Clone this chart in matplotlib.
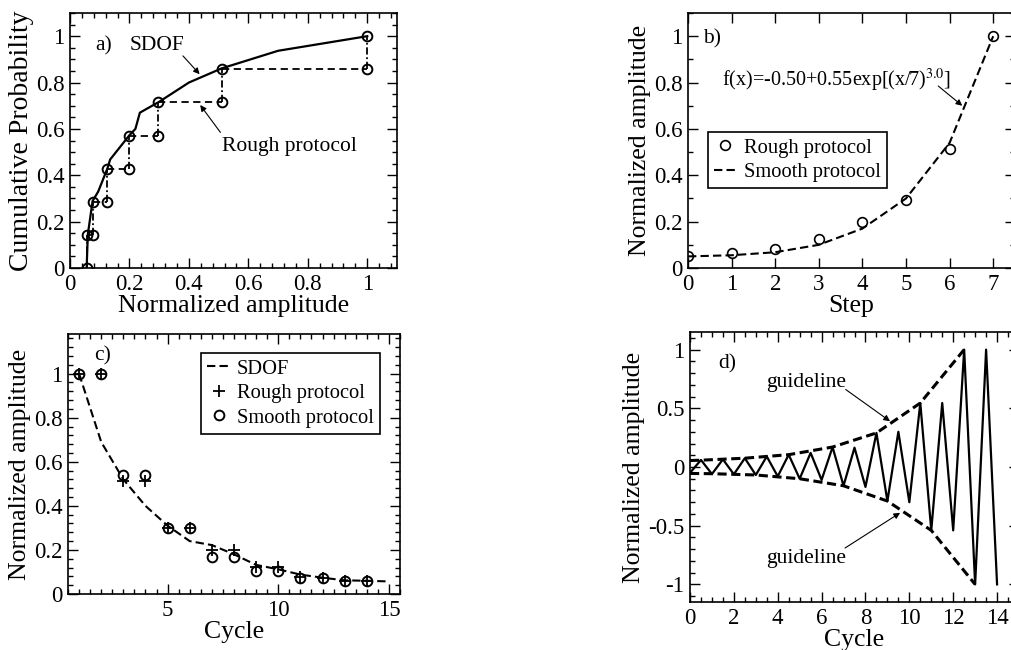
import numpy as np
import matplotlib.pyplot as plt
from matplotlib.ticker import MultipleLocator, FuncFormatter

plt.rcParams['font.family'] = ['Liberation Serif', 'DejaVu Serif']
plt.rcParams['mathtext.fontset'] = 'stix'

# a) cumulative probability
sdof_amp = [0.056, 0.06, 0.076, 0.095, 0.126, 0.135, 0.2, 0.22, 0.235, 0.3, 0.4, 0.51, 0.7, 1.0]
sdof_cdf = [0.0, 0.145, 0.289, 0.33, 0.43, 0.468, 0.573, 0.6, 0.67, 0.717, 0.8, 0.861, 0.937, 1.0]
rough_amp = [0.057, 0.077, 0.125, 0.2, 0.297, 0.51, 1.0]
rough_cdf = [0.0, 1/7, 2/7, 3/7, 4/7, 5/7, 6/7, 1.0]

# b) protocol steps
steps = [0, 1, 2, 3, 4, 5, 6, 7]
rough_step_amp = [0.051, 0.063, 0.08, 0.127, 0.2, 0.294, 0.512, 1.0]
smooth_step_amp = [0.05, 0.055, 0.068, 0.1, 0.17, 0.3, 0.54, 1.0]

# c) amplitude per cycle
cycles = [1, 2, 3, 4, 5, 6, 7, 8, 9, 10, 11, 12, 13, 14]
sdof_cycles = [1, 2, 3, 4, 5, 6, 7, 8, 9, 10, 11, 12, 13, 14, 15]
sdof_cycle_amp = [1.0, 0.69, 0.52, 0.40, 0.31, 0.24, 0.222, 0.18, 0.132, 0.112, 0.088, 0.074, 0.062, 0.06, 0.057]
rough_cycle_amp = [1.0, 1.0, 0.515, 0.515, 0.3, 0.3, 0.2, 0.2, 0.124, 0.122, 0.079, 0.074, 0.06, 0.06]
smooth_cycle_amp = [1.0, 1.0, 0.541, 0.541, 0.298, 0.298, 0.17, 0.17, 0.105, 0.105, 0.071, 0.072, 0.059, 0.06]

# d) loading history
hist_t = [0, 0.5, 1, 1.5, 2, 2.5, 3, 3.5, 4, 4.5, 5, 5.5, 6, 6.5, 7,
          7.5, 8, 8.5, 9, 9.5, 10, 10.5, 11, 11.5, 12, 12.5, 13, 13.5, 14]
hist_amp = [-0.05, 0.06, -0.06, 0.065, -0.062, 0.075, -0.068, 0.09, -0.08, 0.105, -0.1, 0.12, -0.11,
            0.17, -0.16, 0.165, -0.17, 0.29, -0.29, 0.3, -0.3, 0.545, -0.54, 0.545, -0.54, 1.0, -1.0, 1.0, -1.0]
guide_up_t = [0, 0.5, 2.5, 4.5, 6.5, 8.5, 10.5, 12.5]
guide_up = [0.055, 0.058, 0.075, 0.105, 0.17, 0.29, 0.545, 1.0]
guide_lo_t = [0, 1, 3, 5, 7, 9, 11, 13]
guide_lo = [-0.055, -0.057, -0.068, -0.1, -0.16, -0.29, -0.54, -1.0]

LBL = 18.5
TCK = 16.5
TXT = 15.5
arrow = dict(arrowstyle='-|>', lw=0.8, color='k', mutation_scale=9, shrinkA=0, shrinkB=0)
fmt_g = FuncFormatter(lambda v, p: '%g' % round(v, 6))


def style(ax):
    ax.tick_params(which='both', direction='in', top=True, right=True, labelsize=TCK, pad=4)
    ax.tick_params(which='major', length=7, width=1)
    ax.tick_params(which='minor', length=3.5, width=1)
    for s in ax.spines.values():
        s.set_linewidth(1.2)
    ax.xaxis.set_major_formatter(fmt_g)
    ax.yaxis.set_major_formatter(fmt_g)


def legend(ax, **kw):
    leg = ax.legend(borderaxespad=0, fontsize=14.8, frameon=True, fancybox=False, edgecolor='k',
                    handlelength=1.1, handletextpad=0.35, borderpad=0.3, labelspacing=0.25,
                    framealpha=1, **kw)
    leg.get_frame().set_linewidth(1.2)


fig = plt.figure(figsize=(10.11, 6.5), dpi=100)
W, H = 1011, 650
ax_a = fig.add_axes([70/W, 1-268/H, 327/W, 255/H])
ax_b = fig.add_axes([688/W, 1-268/H, 327/W, 255/H])
ax_c = fig.add_axes([68/W, 1-594/H, 332/W, 260/H])
ax_d = fig.add_axes([690/W, 1-602/H, 329/W, 270/H])

# ---- a)
ax = ax_a
ax.plot(sdof_amp, sdof_cdf, 'k-', lw=1.6)
# staircase of the rough protocol
ax.hlines(rough_cdf[1:-1], rough_amp[:-1], rough_amp[1:], colors='k', linestyles=(0, (4, 2.5)), lw=1.3)
ax.vlines(rough_amp, rough_cdf[:-1], rough_cdf[1:], colors='k', linestyles=(0, (4, 1.5, 1, 1.5)), lw=1.3)
px = np.repeat(rough_amp, 2)
py = np.array([[rough_cdf[i], rough_cdf[i + 1]] for i in range(len(rough_amp))]).ravel()
ax.plot(px, py, 'o', ms=7, mfc='none', mec='k', mew=1.4)
ax.set_xlim(0, 1.1)
ax.set_ylim(0, 1.1)
ax.xaxis.set_major_locator(MultipleLocator(0.2))
ax.xaxis.set_minor_locator(MultipleLocator(0.04))
ax.yaxis.set_major_locator(MultipleLocator(0.2))
ax.yaxis.set_minor_locator(MultipleLocator(0.05))
style(ax)
ax.set_xlabel('Normalized amplitude', fontsize=LBL, labelpad=0)
ax.set_ylabel('Cumulative Probability', fontsize=LBL + 1.5, labelpad=1)
ax.text(0.084, 0.96, 'a)', fontsize=TXT, va='center')
ax.text(0.2, 0.96, 'SDOF', fontsize=TXT, va='center')
ax.annotate('', xy=(0.436, 0.836), xytext=(0.38, 0.915), arrowprops=arrow)
ax.text(0.512, 0.524, 'Rough protocol', fontsize=TXT, va='center')
ax.annotate('', xy=(0.438, 0.703), xytext=(0.506, 0.585), arrowprops=arrow)

# ---- b)
ax = ax_b
ax.plot(steps, rough_step_amp, 'o', ms=7, mfc='none', mec='k', mew=1.2, label='Rough protocol')
ax.plot(steps, smooth_step_amp, 'k', ls=(0, (4, 2)), lw=1.5, label='Smooth protocol')
ax.set_xlim(0, 7.5)
ax.set_ylim(0, 1.1)
ax.xaxis.set_major_locator(MultipleLocator(1))
ax.yaxis.set_major_locator(MultipleLocator(0.2))
ax.yaxis.set_minor_locator(MultipleLocator(0.1))
style(ax)
ax.set_xlabel('Step', fontsize=LBL, labelpad=0)
ax.set_ylabel('Normalized amplitude', fontsize=LBL, labelpad=2)
ax.text(0.35, 0.99, 'b)', fontsize=TXT, va='center')
ax.text(0.78, 0.81, r'f(x)=-0.50+0.55exp[(x/7)$^{3.0}$]', fontsize=TXT - 1, va='center')
ax.annotate('', xy=(6.29, 0.70), xytext=(5.74, 0.785), arrowprops=arrow)
legend(ax, loc='upper left', bbox_to_anchor=(0.061, 0.533))

# ---- c)
ax = ax_c
ax.plot(sdof_cycles, sdof_cycle_amp, 'k', ls=(0, (4, 2)), lw=1.5, label='SDOF')
ax.plot(cycles, rough_cycle_amp, '+', ms=8, mec='k', mew=1.3, label='Rough protocol')
ax.plot(cycles, smooth_cycle_amp, 'o', ms=7, mfc='none', mec='k', mew=1.4, label='Smooth protocol')
ax.set_xlim(0.5, 15.5)
ax.set_ylim(0, 1.18)
ax.xaxis.set_major_locator(MultipleLocator(5))
ax.xaxis.set_minor_locator(MultipleLocator(0.5))
ax.yaxis.set_major_locator(MultipleLocator(0.2))
ax.yaxis.set_minor_locator(MultipleLocator(0.04))
style(ax)
ax.set_xlabel('Cycle', fontsize=LBL, labelpad=0)
ax.set_ylabel('Normalized amplitude', fontsize=LBL, labelpad=2)
ax.text(1.67, 1.08, 'c)', fontsize=TXT, va='center')
legend(ax, loc='upper right', bbox_to_anchor=(0.94, 0.927))

# ---- d)
ax = ax_d
ax.plot(hist_t, hist_amp, 'k-', lw=1.6)
ax.plot(guide_up_t, guide_up, 'k', ls=(0, (3, 1.5)), lw=2.2)
ax.plot(guide_lo_t, guide_lo, 'k', ls=(0, (3, 1.5)), lw=2.2)
ax.set_xlim(0, 15)
ax.set_ylim(-1.15, 1.15)
ax.xaxis.set_major_locator(MultipleLocator(2))
ax.xaxis.set_minor_locator(MultipleLocator(0.5))
ax.yaxis.set_major_locator(MultipleLocator(0.5))
ax.yaxis.set_minor_locator(MultipleLocator(0.1))
style(ax)
ax.set_xlabel('Cycle', fontsize=LBL, labelpad=0)
ax.set_ylabel('Normalized amplitude', fontsize=LBL, labelpad=2)
ax.text(1.28, 0.88, 'd)', fontsize=TXT, va='center')
ax.text(5.3, 0.72, 'guideline', fontsize=TXT, va='center', ha='center')
ax.annotate('', xy=(9.12, 0.39), xytext=(7.1, 0.66), arrowprops=arrow)
ax.text(5.3, -0.78, 'guideline', fontsize=TXT, va='center', ha='center')
ax.annotate('', xy=(9.58, -0.39), xytext=(7.07, -0.69), arrowprops=arrow)

fig.savefig('out.png', dpi=100)
